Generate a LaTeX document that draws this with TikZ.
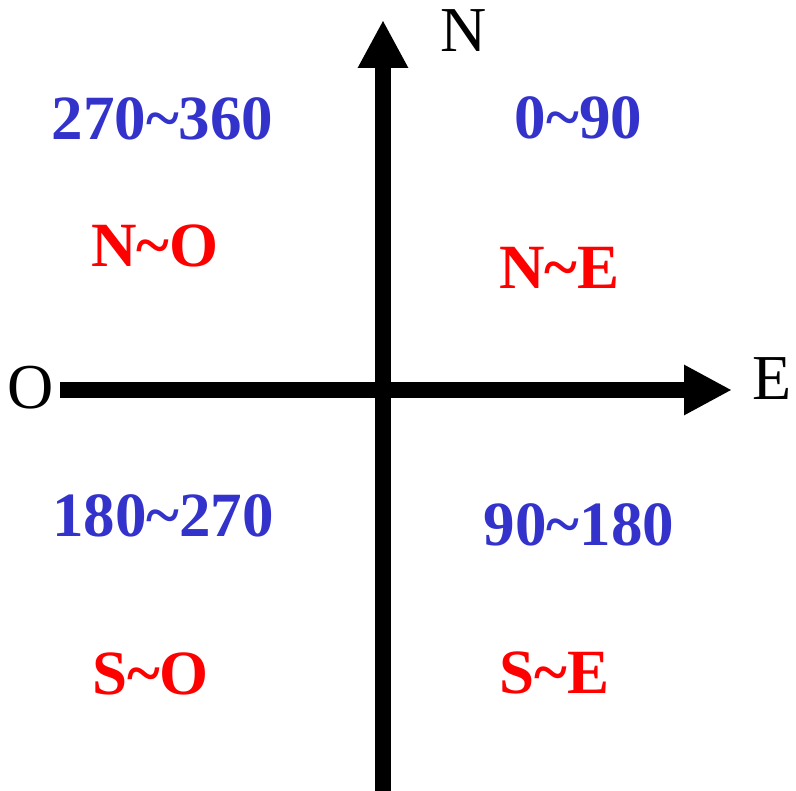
\documentclass[tikz,border=0pt]{standalone}
\usepackage{fontspec}
\setmainfont{Liberation Serif}
\usetikzlibrary{arrows.meta}
\definecolor{degblue}{HTML}{3333CC}
\definecolor{dirred}{HTML}{FF0000}
\tikzset{
  axis/.style={line width=15.5pt, -{Triangle[length=48pt,width=47pt]}},
  deg/.style={inner sep=0pt, text=degblue, font=\fontsize{63}{70}\selectfont\bfseries},
  quad/.style={inner sep=0pt, text=dirred, font=\fontsize{63}{70}\selectfont\bfseries},
  cardinal/.style={inner sep=0pt, font=\fontsize{64}{70}\selectfont}
}
\begin{document}
\begin{tikzpicture}[x=1pt,y=-1pt]
\useasboundingbox (0,0) rectangle (796,791);
\coordinate (south) at (383,791);
\coordinate (north) at (383,20);
\coordinate (west) at (60,390);
\coordinate (east) at (732,390);
\draw[axis] (south) -- (north);
\draw[axis] (west) -- (east);
\node[cardinal] (labN) at (464,31) {N};
\node[cardinal] (labO) at (31,388) {O};
\node[cardinal] (labE) at (772,379) {E};
\node[deg] (d1) at (162.5,118.5) {270\char`~360};
\node[deg] (d2) at (578.5,117.5) {0\char`~90};
\node[deg] (d3) at (163,515.5) {180\char`~270};
\node[deg] (d4) at (579,524.5) {90\char`~180};
\node[quad] (q1) at (155,246) {N\char`~O};
\node[quad] (q2) at (559.5,267.5) {N\char`~E};
\node[quad] (q3) at (150.5,673.5) {S\char`~O};
\node[quad] (q4) at (554.5,672.5) {S\char`~E};
\end{tikzpicture}
\end{document}
